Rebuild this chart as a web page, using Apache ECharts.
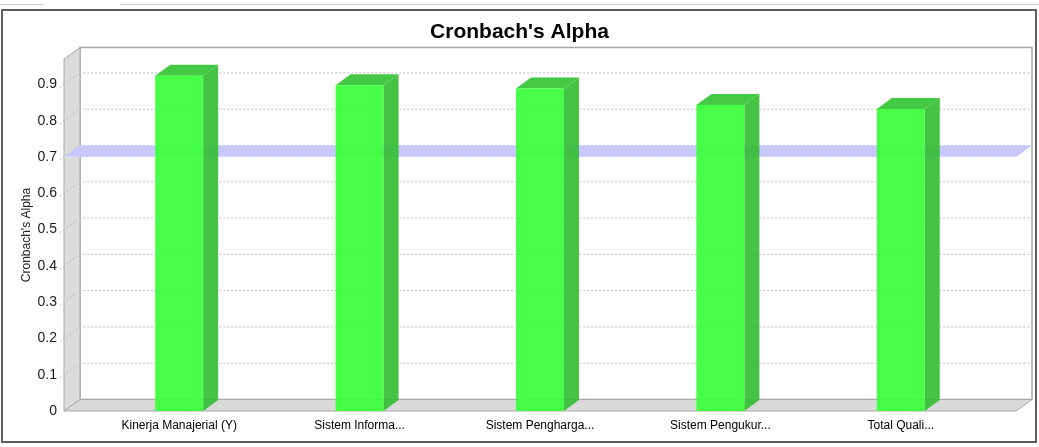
<!DOCTYPE html>
<html>
<head>
<meta charset="utf-8">
<script src="https://cdn.jsdelivr.net/npm/echarts@6/dist/echarts.min.js"></script>
<style>
  html, body { margin: 0; padding: 0; background: #fff; }
  #chart { width: 1039px; height: 447px; }
</style>
</head>
<body>
<div id="chart"></div>
<script>
// data
const categories = ['Kinerja Manajerial (Y)', 'Sistem Informa...', 'Sistem Pengharga...', 'Sistem Pengukur...', 'Total Quali...'];
const alphaValues = [0.924, 0.898, 0.889, 0.843, 0.832];
const yTicks = [0.1, 0.2, 0.3, 0.4, 0.5, 0.6, 0.7, 0.8, 0.9];
const thresholdValue = 0.7;

// fake 3d depth
const DX = 16, DY = -11.5;      // walls
const BDX = 15, BDY = -11;      // bars
const PAD = 25;                 // front plane sticks out past the category band

var chart = echarts.init(document.getElementById('chart'));

function renderFrame(params, api) {
    var cs = params.coordSys;
    var L = cs.x - PAD, R = cs.x + cs.width + PAD;
    var T = cs.y, B = cs.y + cs.height;
    var kids = [];
    // back wall
    kids.push({
        type: 'polygon',
        shape: { points: [[L + DX, T + DY], [R + DX, T + DY], [R + DX, B + DY], [L + DX, B + DY]] },
        style: { fill: '#fff', stroke: '#a8a8a8', lineWidth: 1.5 }
    });
    // left wall
    kids.push({
        type: 'polygon',
        shape: { points: [[L, T], [L + DX, T + DY], [L + DX, B + DY], [L, B]] },
        style: { fill: '#dcdcdc', stroke: '#a8a8a8', lineWidth: 1 }
    });
    // floor
    kids.push({
        type: 'polygon',
        shape: { points: [[L, B], [L + DX, B + DY], [R + DX, B + DY], [R, B]] },
        style: { fill: '#d9d9d9', stroke: '#a8a8a8', lineWidth: 1 }
    });
    // grid lines (back wall + left wall)
    yTicks.forEach(function (v) {
        var y = api.coord([0, v])[1];
        kids.push({
            type: 'polyline',
            shape: { points: [[L - 4, y + 3], [L + DX, y + DY], [R + DX, y + DY]] },
            style: { fill: null, stroke: '#bcbcbc', lineWidth: 1, lineDash: [2, 2] }
        });
    });
    // threshold plane
    var ty = api.coord([0, thresholdValue])[1];
    kids.push({
        type: 'polygon',
        shape: { points: [[L, ty], [L + DX, ty + DY], [R + DX, ty + DY], [R, ty]] },
        style: { fill: '#c8c8ff', stroke: null }
    });
    kids.push({
        type: 'line',
        shape: { x1: L, y1: ty, x2: R, y2: ty },
        style: { stroke: '#ffffff', lineWidth: 1, lineDash: [1, 2] }
    });
    return { type: 'group', children: kids };
}

function renderBar(params, api) {
    var top = api.coord([api.value(0), api.value(1)]);
    var base = api.coord([api.value(0), 0]);
    var w = api.size([1, 0])[0] * 0.266;
    var x0 = top[0] - w / 2, x1 = x0 + w;
    return {
        type: 'group',
        children: [
            {
                type: 'polygon',
                shape: { points: [[x1, top[1]], [x1 + BDX, top[1] + BDY], [x1 + BDX, base[1] + BDY], [x1, base[1]]] },
                style: { fill: 'rgba(52,190,52,0.92)' }
            },
            {
                type: 'polygon',
                shape: { points: [[x0, top[1]], [x0 + BDX, top[1] + BDY], [x1 + BDX, top[1] + BDY], [x1, top[1]]] },
                style: { fill: 'rgba(58,198,58,0.95)' }
            },
            {
                type: 'rect',
                shape: { x: x0, y: top[1], width: w, height: base[1] - top[1] },
                style: { fill: 'rgba(58,255,58,0.93)' }
            }
        ]
    };
}

var option = {
    animation: false,
    title: {
        left: 'center',
        top: 17,
        text: "Cronbach's Alpha",
        textStyle: { fontFamily: 'Liberation Sans', fontSize: 21, fontWeight: 'bold', color: '#000' }
    },
    grid: { left: 89, right: 48, top: 59, bottom: 36 },
    xAxis: {
        type: 'category',
        data: categories,
        axisLine: { show: false },
        axisTick: { show: false },
        axisLabel: { margin: 9, fontFamily: 'Liberation Sans', fontSize: 12, color: '#000' }
    },
    yAxis: {
        type: 'value',
        min: 0,
        max: 0.97,
        interval: 0.1,
        offset: PAD,
        axisLine: { show: false },
        axisTick: { show: false },
        splitLine: { show: false },
        axisLabel: { margin: 7, showMaxLabel: false, fontFamily: 'Liberation Sans', fontSize: 14, color: '#1a1a1a' },
        name: "Cronbach's Alpha",
        nameLocation: 'middle',
        nameGap: 31,
        nameMoveOverlap: false,
        nameTextStyle: { fontFamily: 'Liberation Sans', fontSize: 12, color: '#222' }
    },
    graphic: [
        { type: 'rect', shape: { x: 2, y: 10, width: 1034, height: 432 }, style: { fill: null, stroke: '#5e5e5e', lineWidth: 2 } },
        { type: 'line', shape: { x1: 0, y1: 4.5, x2: 44, y2: 4.5 }, style: { stroke: '#c8c8c8' } },
        { type: 'line', shape: { x1: 120, y1: 4.5, x2: 1039, y2: 4.5 }, style: { stroke: '#d0d0d0' } }
    ],
    series: [
        {
            name: 'frame',
            type: 'custom',
            silent: true,
            z: 1,
            renderItem: renderFrame,
            data: [[0, 0]]
        },
        {
            name: "Cronbach's Alpha",
            type: 'custom',
            z: 2,
            renderItem: renderBar,
            data: alphaValues.map(function (v, i) { return [i, v]; })
        }
    ]
};
chart.setOption(option);
</script>
</body>
</html>
